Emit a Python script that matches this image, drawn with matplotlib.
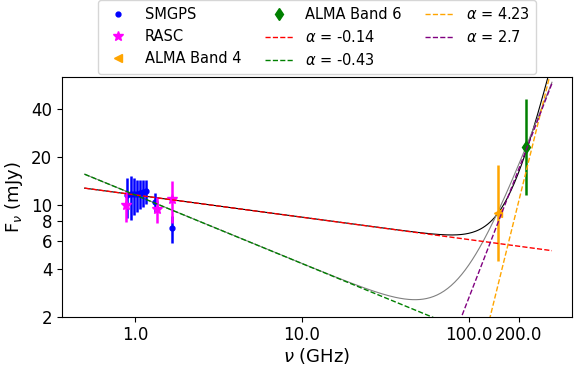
import numpy as np
import matplotlib
matplotlib.use("Agg")
import matplotlib.pyplot as plt
from matplotlib.ticker import FixedLocator, FormatStrFormatter, NullLocator

# SMGPS points (GHz, mJy)
smgps_nu = [0.895, 0.946, 0.99, 1.03, 1.076, 1.12, 1.16, 1.32, 1.66]
smgps_flux = [11.5, 11.7, 11.7, 11.7, 11.9, 12.1, 12.3, 10.5, 7.15]
smgps_err = [3.2, 3.6, 3.0, 2.6, 2.4, 2.3, 2.1, 1.5, 1.4]

# RASC points
rasc_nu = [0.88, 1.36, 1.66]
rasc_flux = [10.0, 9.5, 10.9]
rasc_err = [2.2, 1.8, 3.2]

# ALMA points (error bars are a factor of 2 each way)
alma4_nu = [149.7]
alma4_flux = [8.87]
alma6_nu = [221.5]
alma6_flux = [23.2]

# power-law components: S = S_ref * (nu / nu_ref) ** alpha
alpha_red, amp_red, ref_red = -0.14, 11.6, 1.0
alpha_green, amp_green, ref_green = -0.43, 11.6, 1.0
alpha_orange, amp_orange, ref_orange = 4.23, 3.12, 149.7
alpha_purple, amp_purple, ref_purple = 2.7, 2.0, 90.8

nu_min, nu_max = 0.5, 316.0


def power_law(nu, amp, ref, alpha):
    return amp * (nu / ref) ** alpha


nu = np.logspace(np.log10(nu_min), np.log10(nu_max), 400)
red = power_law(nu, amp_red, ref_red, alpha_red)
green = power_law(nu, amp_green, ref_green, alpha_green)
orange = power_law(nu, amp_orange, ref_orange, alpha_orange)
purple = power_law(nu, amp_purple, ref_purple, alpha_purple)

fig = plt.figure(figsize=(5.74, 3.69), dpi=100)
ax = fig.add_axes([0.108, 0.142, 0.888, 0.649])

ax.plot(nu, red + orange, color="black", lw=0.8)
ax.plot(nu, green + purple, color="gray", lw=0.8)

ax.errorbar(smgps_nu, smgps_flux, yerr=smgps_err, fmt="none", ecolor="blue", elinewidth=1.8)
ax.plot(smgps_nu, smgps_flux, ".", color="blue", ms=7, label="SMGPS")
ax.errorbar(rasc_nu, rasc_flux, yerr=rasc_err, fmt="none", ecolor="magenta", elinewidth=1.8)
ax.plot(rasc_nu, rasc_flux, "*", color="magenta", ms=7, label="RASC")

a4 = np.array(alma4_flux)
ax.errorbar(alma4_nu, alma4_flux, yerr=[a4 / 2, a4], fmt="none", ecolor="orange", elinewidth=1.8)
ax.plot(alma4_nu, alma4_flux, "<", color="orange", ms=6, label="ALMA Band 4")
a6 = np.array(alma6_flux)
ax.errorbar(alma6_nu, alma6_flux, yerr=[a6 / 2, a6], fmt="none", ecolor="green", elinewidth=1.8)
ax.plot(alma6_nu, alma6_flux, "d", color="green", ms=6, label="ALMA Band 6")

ax.plot(nu, red, "--", color="red", lw=1, label=r"$\alpha$ = %s" % alpha_red)
ax.plot(nu, green, "--", color="green", lw=1, label=r"$\alpha$ = %s" % alpha_green)
ax.plot(nu, orange, "--", color="orange", lw=1, label=r"$\alpha$ = %s" % alpha_orange)
ax.plot(nu, purple, "--", color="purple", lw=1, label=r"$\alpha$ = %s" % alpha_purple)

ax.set_xscale("log")
ax.set_yscale("log")
ax.set_xlim(0.366, 415)
ax.set_ylim(2, 63.5)

ax.xaxis.set_major_locator(FixedLocator([1, 10, 100, 200]))
ax.xaxis.set_major_formatter(FormatStrFormatter("%.1f"))
ax.xaxis.set_minor_locator(NullLocator())
ax.yaxis.set_major_locator(FixedLocator([2, 4, 6, 8, 10, 20, 40]))
ax.yaxis.set_major_formatter(FormatStrFormatter("%d"))
ax.yaxis.set_minor_locator(NullLocator())
ax.tick_params(labelsize=12)

ax.set_xlabel(r"$\nu$ (GHz)", fontsize=13, labelpad=1)
ax.set_ylabel(r"F$_\nu$ (mJy)", fontsize=13)
ax.yaxis.set_label_coords(-0.072, 0.5)

ax.legend(ncol=3, loc="lower center", bbox_to_anchor=(0.5, 1.012), fontsize=10.5,
          columnspacing=1.6, borderaxespad=0, handletextpad=0.8)

fig.savefig("out.png", dpi=100)
